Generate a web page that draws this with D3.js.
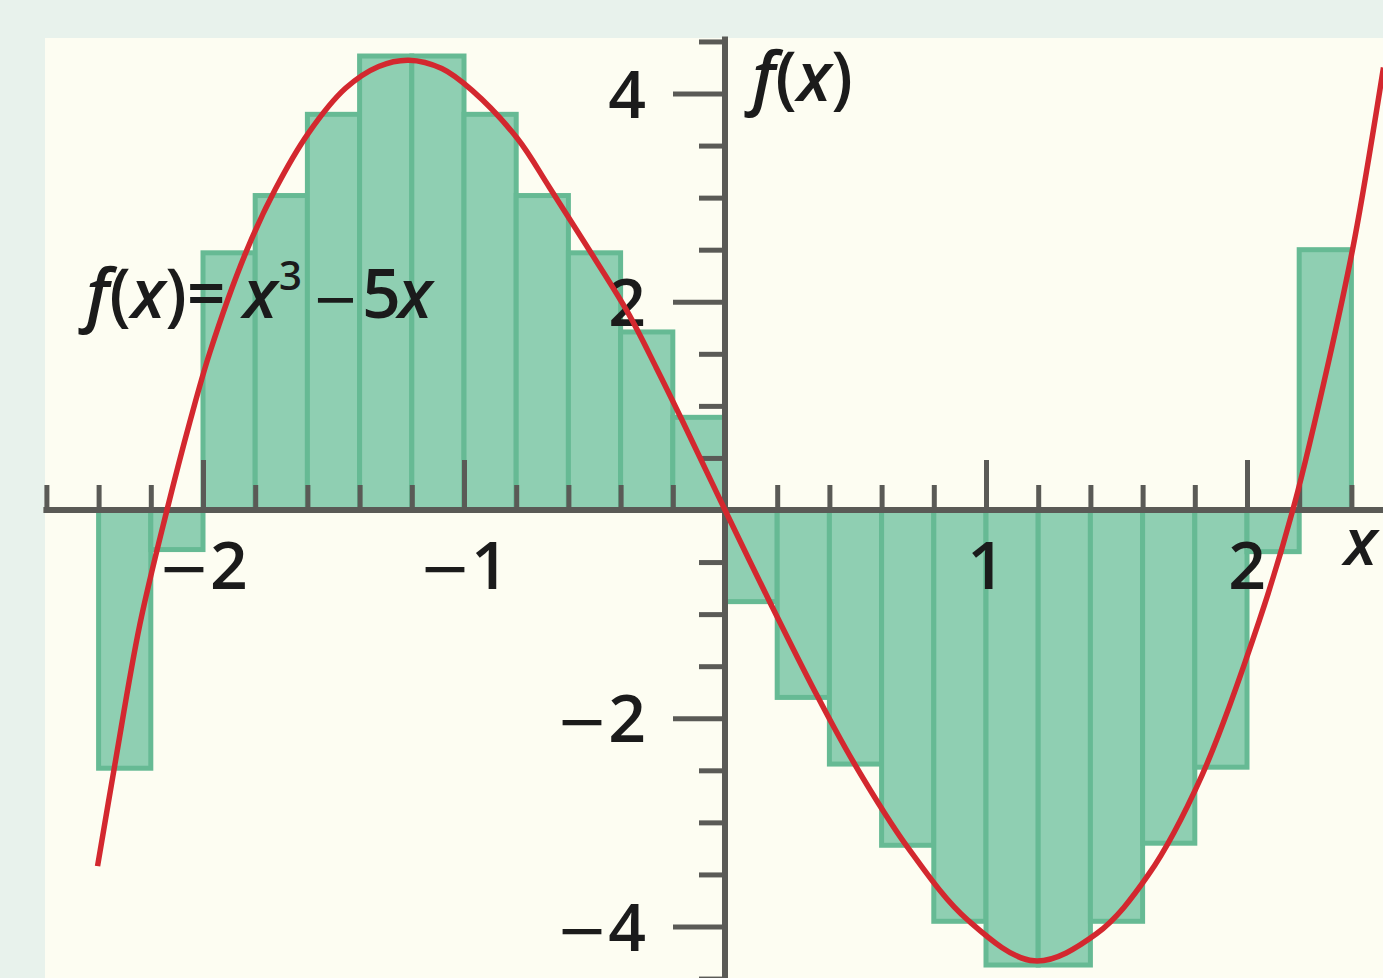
<!DOCTYPE html>
<html>
<head>
<meta charset="utf-8">
<script src="https://cdn.jsdelivr.net/npm/d3@7"></script>
<style>
  html, body { margin: 0; padding: 0; background: #e8f2ec; }
  svg { display: block; }
  text { font-family: "Open Sans", "Noto Sans", sans-serif; fill: #1b1b1b; }
  .minus { font-family: "DejaVu Sans", sans-serif; font-weight: 400; }
</style>
</head>
<body>
<svg id="chart" width="1383" height="978"></svg>
<script>
// Rectangles of width 0.2 under f(x) = x^3 - 5x
const barStarts = [-2.4, -2.2, -2.0, -1.8, -1.6, -1.4, -1.2, -1.0, -0.8, -0.6, -0.4, -0.2,
                    0.0,  0.2,  0.4,  0.6,  0.8,  1.0,  1.2,  1.4,  1.6,  1.8,  2.0,  2.2];
const barHeights = [-2.48, -0.38, 2.47, 3.02, 3.80, 4.36, 4.36, 3.80, 3.02, 2.47, 1.71, 0.89,
                    -0.88, -1.80, -2.44, -3.22, -3.95, -4.37, -4.37, -3.95, -3.20, -2.47, -0.40, 2.50];
const barWidth = 0.2;

// Sampled points of the curve
const curveX = [-2.404, -2.338, -2.242, -2.138, -2.05, -1.973, -1.838, -1.723, -1.596, -1.454,
                -1.327, -1.212, -1.085, -0.969, -0.796, -0.673, -0.531, -0.373, -0.262, -0.162,
                 0, 0.173, 0.346, 0.492, 0.70, 0.931, 1.185, 1.423, 1.623, 1.827,
                 2.046, 2.181, 2.315, 2.412, 2.523];
const curveY = [-3.42, -2.45, -1.10, 0, 0.85, 1.52, 2.46, 3.08, 3.62, 4.05,
                 4.26, 4.32, 4.24, 4.03, 3.57, 3.10, 2.54, 1.90, 1.36, 0.85,
                 0, -0.89, -1.75, -2.42, -3.24, -3.94, -4.33, -4.07, -3.50, -2.55,
                -1.07, 0.05, 1.45, 2.60, 4.25];

// Axis ticks
const xTicks = [-2.6, -2.4, -2.2, -2.0, -1.8, -1.6, -1.4, -1.2, -1.0, -0.8, -0.6, -0.4, -0.2,
                 0.2, 0.4, 0.6, 0.8, 1.0, 1.2, 1.4, 1.6, 1.8, 2.0, 2.2, 2.4];
const xLabelValues = [-2, -1, 1, 2];
const xLabels = ["\u22122", "\u22121", "1", "2"];
const yTicks = [4.5, 4, 3.5, 3, 2.5, 2, 1.5, 1, 0.5, -0.5, -1, -1.5, -2, -2.5, -3, -3.5, -4, -4.5];
const yLabelValues = [4, 2, -2, -4];
const yLabels = ["4", "2", "\u22122", "\u22124"];

const W = 1383, H = 978;
const svg = d3.select("#chart");

const x = d3.scaleLinear().domain([0, 1]).range([725, 986]);
const y = d3.scaleLinear().domain([0, 4]).range([510, 93.5]);

const axisColor = "#5a5a56";

// Panel
svg.append("rect").attr("x", 0).attr("y", 0).attr("width", W).attr("height", H).attr("fill", "#e8f2ec");
svg.append("rect").attr("x", 45).attr("y", 38).attr("width", W - 45).attr("height", H - 38).attr("fill", "#fdfdf2");

// Bars
const bars = barStarts.map((s, i) => ({ x0: s, x1: s + barWidth, v: barHeights[i] }));
svg.append("g").selectAll("rect").data(bars).join("rect")
  .attr("x", d => x(d.x0))
  .attr("width", d => x(d.x1) - x(d.x0))
  .attr("y", d => Math.min(y(0), y(d.v)))
  .attr("height", d => Math.abs(y(d.v) - y(0)))
  .attr("fill", "#8fcfb2")
  .attr("stroke", "#66ba94")
  .attr("stroke-width", 5);

// x axis
const isWhole = d => Math.abs(d - Math.round(d)) < 1e-9;
const xAxis = d3.axisTop(x).tickValues(xTicks).tickSize(25).tickFormat("");
const gx = svg.append("g").attr("transform", `translate(0,${y(0)})`).call(xAxis);
gx.select(".domain").remove();
gx.selectAll(".tick line")
  .attr("stroke", axisColor).attr("stroke-width", 5)
  .attr("y2", d => isWhole(d) ? -50 : -25);
svg.append("line")
  .attr("x1", x(-2.6) - 3).attr("x2", W)
  .attr("y1", y(0)).attr("y2", y(0))
  .attr("stroke", axisColor).attr("stroke-width", 6);

// y axis
const yAxis = d3.axisLeft(y).tickValues(yTicks).tickSize(25).tickFormat("");
const gy = svg.append("g").attr("transform", `translate(${x(0)},0)`).call(yAxis);
gy.select(".domain").remove();
gy.selectAll(".tick line")
  .attr("stroke", axisColor).attr("stroke-width", 5)
  .attr("x2", d => (d % 2 === 0) ? -52 : -26);
svg.append("line")
  .attr("x1", x(0)).attr("x2", x(0))
  .attr("y1", y(4.5) - 5).attr("y2", H)
  .attr("stroke", axisColor).attr("stroke-width", 6);

// Tick labels: minus sign set apart from the digits
function numberLabel(sel, s) {
  sel.text(null);
  if (s.startsWith("\u2212")) {
    sel.append("tspan").attr("class", "minus").attr("font-size", 62).text("\u2212");
    sel.append("tspan").text(s.slice(1));
  } else {
    sel.append("tspan").text(s);
  }
}

svg.append("g").selectAll("text").data(xLabelValues).join("text")
  .attr("x", d => x(d))
  .attr("y", 589)
  .attr("text-anchor", "middle")
  .attr("font-size", 66)
  .attr("font-weight", 600)
  .each(function (d, i) { numberLabel(d3.select(this), xLabels[i]); });

svg.append("g").selectAll("text").data(yLabelValues).join("text")
  .attr("x", 646)
  .attr("y", d => y(d) + 24)
  .attr("text-anchor", "end")
  .attr("font-size", 66)
  .attr("font-weight", 600)
  .each(function (d, i) { numberLabel(d3.select(this), yLabels[i]); });

// Axis titles
const fx = svg.append("text").attr("x", 752).attr("y", 101).attr("font-size", 68).attr("font-weight", 600);
fx.append("tspan").attr("font-style", "italic").text("f");
fx.append("tspan").text("(");
fx.append("tspan").attr("font-style", "italic").text("x");
fx.append("tspan").text(")");

svg.append("text").attr("x", 1344).attr("y", 565)
  .attr("font-size", 66).attr("font-weight", 600).attr("font-style", "italic").text("x");

// Function label
const lab = svg.append("text").attr("x", 86).attr("y", 318).attr("font-size", 68).attr("font-weight", 600);
lab.append("tspan").attr("font-style", "italic").text("f");
lab.append("tspan").text("(");
lab.append("tspan").attr("font-style", "italic").text("x");
lab.append("tspan").text(")=");
lab.append("tspan").attr("x", 243).attr("font-style", "italic").text("x");
lab.append("tspan").attr("x", 279).attr("font-size", 40).attr("dy", -28).text("3");
lab.append("tspan").attr("x", 312).attr("dy", 28).attr("class", "minus").attr("font-size", 56).text("\u2212");
lab.append("tspan").attr("x", 362).text("5");
lab.append("tspan").attr("x", 398).attr("font-style", "italic").text("x");

// Curve
const pts = curveX.map((v, i) => [v, curveY[i]]);
const line = d3.line().x(d => x(d[0])).y(d => y(d[1])).curve(d3.curveCatmullRom.alpha(0.5));
svg.append("path")
  .attr("d", line(pts))
  .attr("fill", "none")
  .attr("stroke", "#d3282f")
  .attr("stroke-width", 5.5)
  .attr("stroke-linecap", "butt");
</script>
</body>
</html>
